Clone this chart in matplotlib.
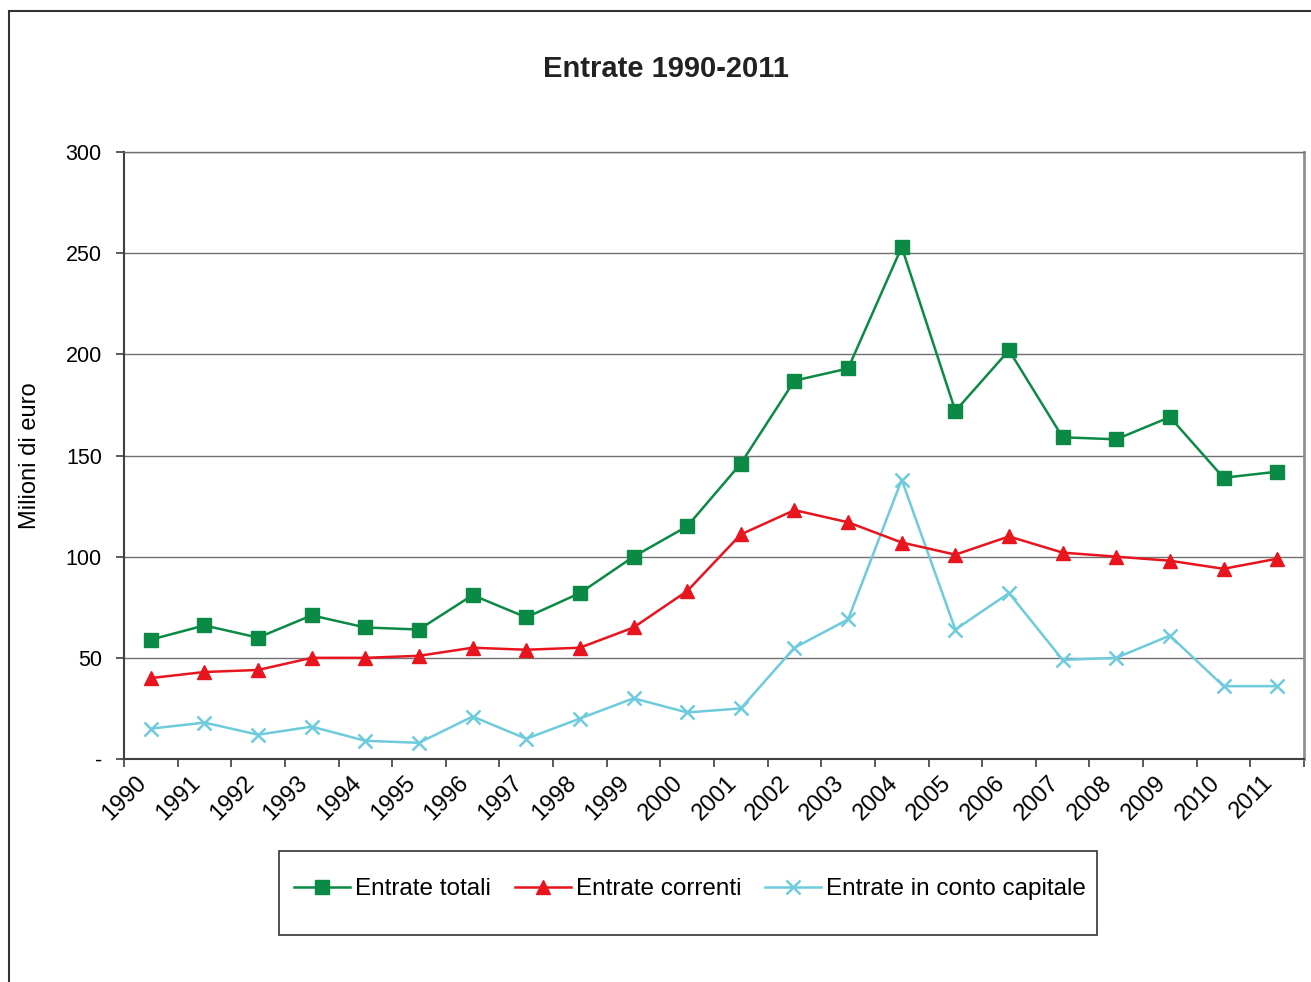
import numpy as np
import matplotlib
matplotlib.use("Agg")
import matplotlib.pyplot as plt
from matplotlib.patches import Rectangle
from matplotlib.ticker import FuncFormatter

plt.rcParams['font.family'] = ['Liberation Sans', 'DejaVu Sans']

# ── Data (milioni di euro) ────────────────────────────────────────────────────
years = [str(y) for y in range(1990, 2012)]
totali = [59, 66, 60, 71, 65, 64, 81, 70, 82, 100, 115, 146,
          187, 193, 253, 172, 202, 159, 158, 169, 139, 142]
correnti = [40, 43, 44, 50, 50, 51, 55, 54, 55, 65, 83, 111,
            123, 117, 107, 101, 110, 102, 100, 98, 94, 99]
capitale = [15, 18, 12, 16, 9, 8, 21, 10, 20, 30, 23, 25,
            55, 69, 138, 64, 82, 49, 50, 61, 36, 36]

GREEN, RED, CYAN = "#0b8a45", "#e8141e", "#6ecbdc"

fig = plt.figure(figsize=(13.11, 9.82), dpi=100)
W, H = 1311, 982
ax = fig.add_axes([124/W, 1-759/H, (1304-124)/W, (759-152)/H])

x = np.arange(len(years))
ax.plot(x, totali, color=GREEN, lw=1.8, marker="s", ms=10, mec=GREEN, mfc=GREEN,
        label="Entrate totali", zorder=4)
ax.plot(x, correnti, color=RED, lw=1.8, marker="^", ms=10.5, mec=RED, mfc=RED,
        label="Entrate correnti", zorder=4)
ax.plot(x, capitale, color=CYAN, lw=1.8, marker="x", ms=10.5, mew=1.8,
        label="Entrate in conto capitale", zorder=3)

ax.set_xlim(-0.5, len(years)-0.5)
ax.set_ylim(0, 300)
ax.set_yticks(range(0, 301, 50))
ax.yaxis.set_major_formatter(FuncFormatter(lambda v, p: "-" if v == 0 else f"{v:.0f}"))
ax.grid(axis="y", color="#707070", lw=1.0)
ax.set_axisbelow(True)

# x: boundary ticks (minor), labels shifted left of category centres
ax.set_xticks(np.arange(len(years)+1)-0.5, minor=True)
ax.set_xticks(x-0.28, years)
ax.tick_params(axis="x", which="major", length=0, pad=9, labelsize=17)
ax.tick_params(axis="x", which="minor", length=6, width=1.2, color="#404040")
ax.tick_params(axis="y", length=6, width=1.2, color="#404040", labelsize=15.5, pad=10)
for lab in ax.get_xticklabels():
    lab.set_rotation(45); lab.set_ha("right"); lab.set_rotation_mode("anchor")

for s in ("left", "bottom"):
    ax.spines[s].set_color("#404040"); ax.spines[s].set_linewidth(1.5)
ax.spines["right"].set_color("#909090"); ax.spines["right"].set_linewidth(2)
ax.spines["top"].set_color("#707070"); ax.spines["top"].set_linewidth(1.0)

ax.set_ylabel("Milioni di euro", fontsize=17, labelpad=18)
fig.text(666/W, 1-69/H, "Entrate 1990-2011", ha="center", va="center",
         fontsize=21, fontweight="bold", color="#222222")

# legend with an Excel-like box
leg = fig.legend(loc="center", bbox_to_anchor=(690/W, 1-889/H), ncol=3,
                 frameon=False, fontsize=17.5, handlelength=2.3, handletextpad=0.2,
                 columnspacing=1.0)
fig.add_artist(Rectangle((279/W, 1-935/H), (1097-279)/W, (935-851)/H,
                         transform=fig.transFigure, fill=False, ec="#333333", lw=1.2))

# chart-area border (runs off the right and bottom edges)
fig.add_artist(Rectangle((9/W, -0.05), 1.2, 1-11/H+0.05, transform=fig.transFigure,
                         fill=False, ec="#333333", lw=1.5))

fig.savefig("out.png", dpi=100)
